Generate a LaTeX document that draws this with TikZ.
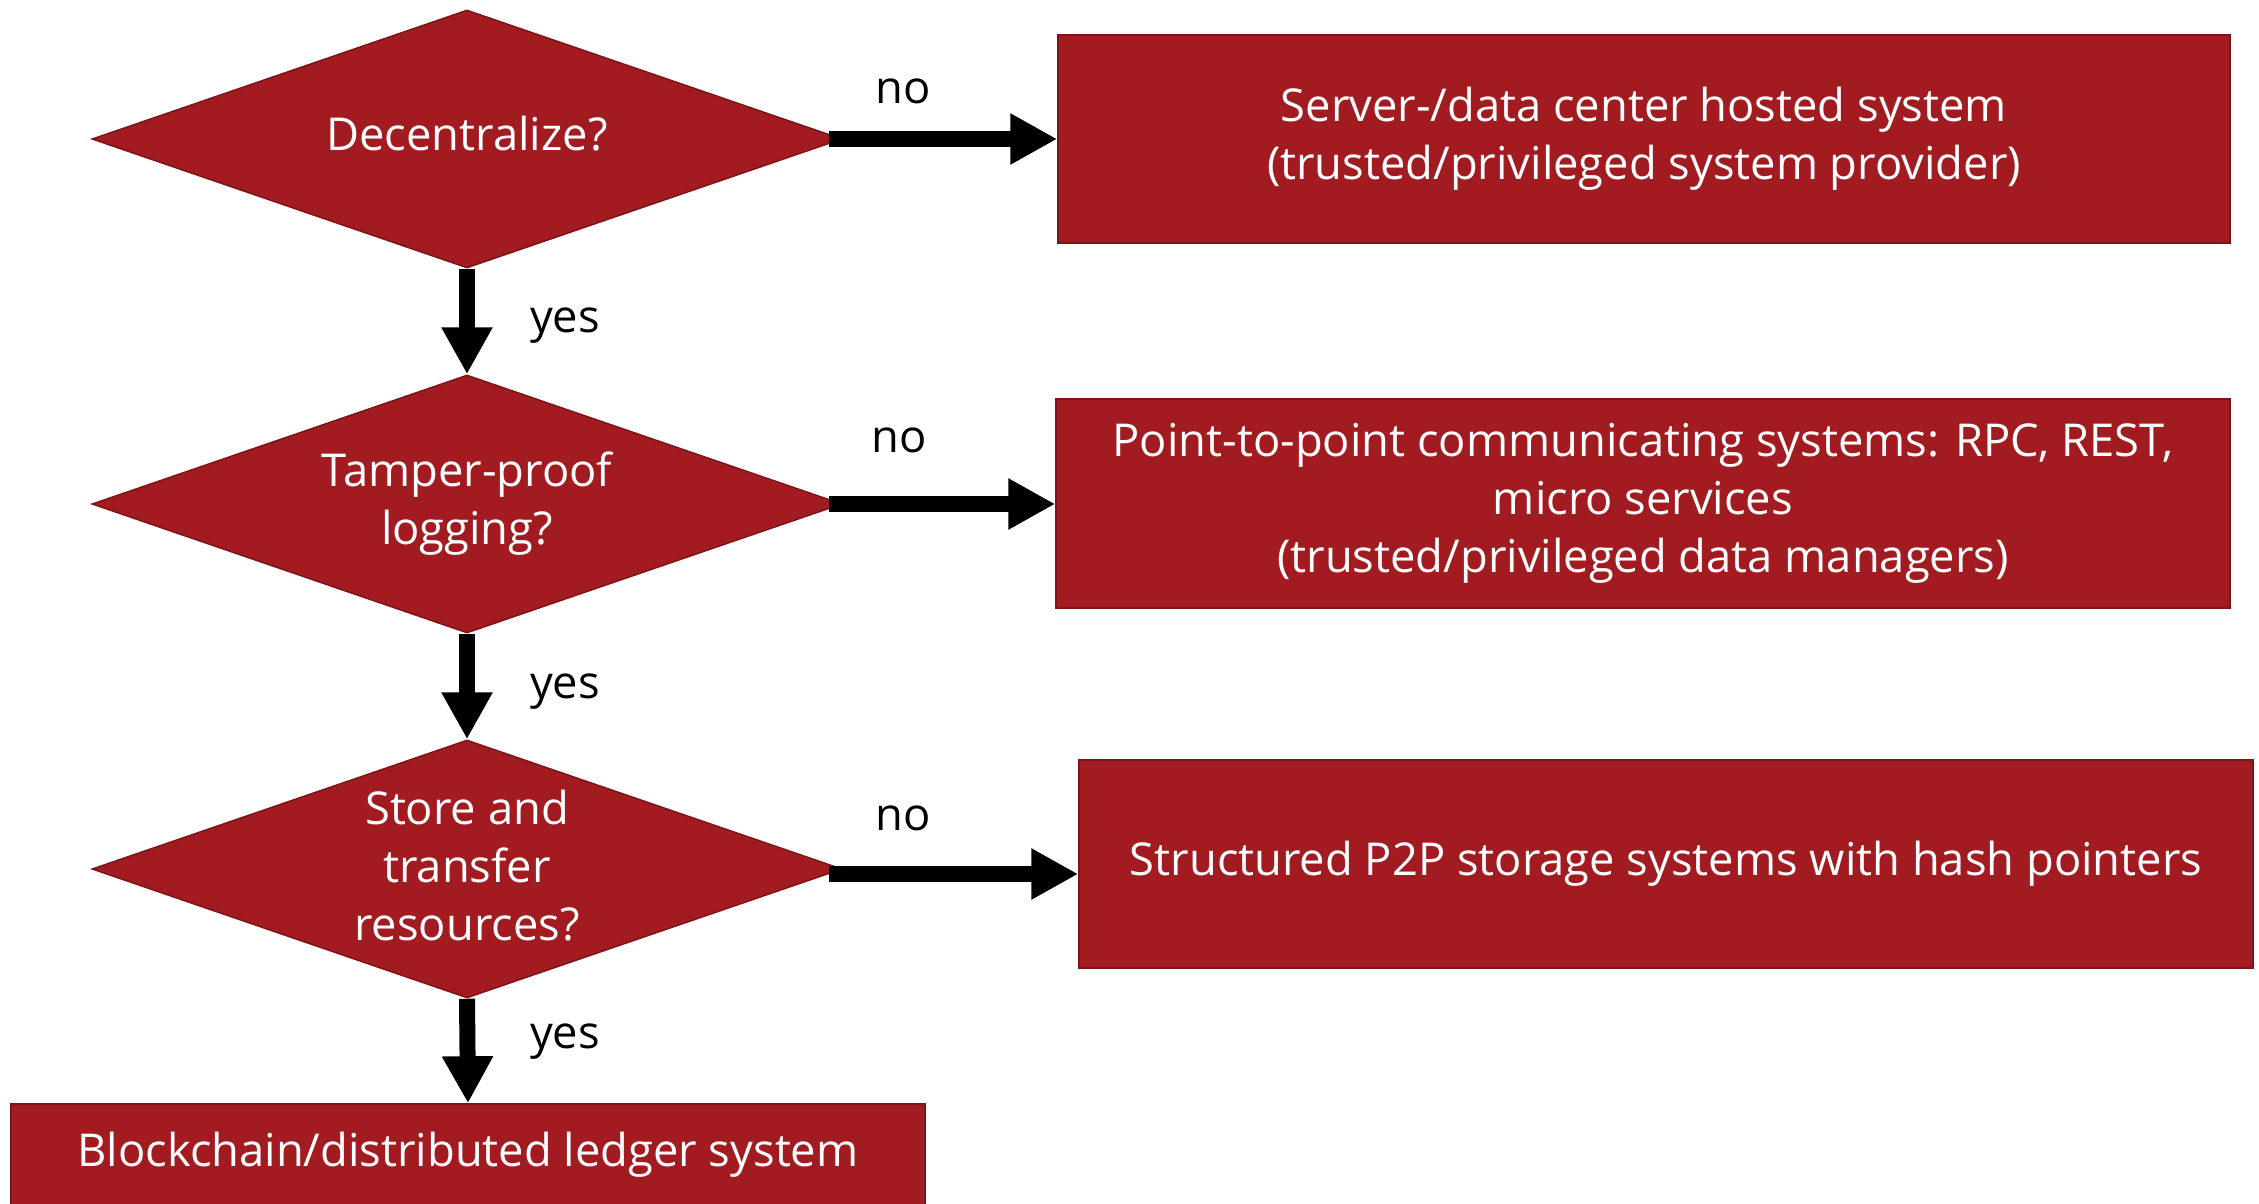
\documentclass[tikz,border=0pt]{standalone}
\usepackage{fontspec}
\setmainfont{Open Sans}
\usetikzlibrary{shapes.geometric,arrows.meta}
\definecolor{dred}{RGB}{162,27,32}
\definecolor{dredline}{RGB}{125,20,24}
\begin{document}
\begin{tikzpicture}[x=1pt,y=-1pt,
  dec/.style={shape=diamond, fill=dred, draw=dredline, line width=1.5pt, minimum width=750pt, minimum height=258pt, inner sep=0pt},
  dectext/.style={text=white, align=center, inner sep=0pt, font=\fontsize{45.3}{58}\selectfont},
  res/.style={rectangle, fill=dred, draw=dredline, line width=1.5pt, inner sep=0pt, text=white, align=center, font=\fontsize{45.3}{58}\selectfont},
  flow/.style={line width=16pt, -{Triangle[length=47pt,width=48pt]}},
  lbl/.style={text=black, inner sep=0pt, font=\fontsize{45.3}{58}\selectfont}]
\useasboundingbox (0,0) rectangle (2259,1204);
\clip (0,0) rectangle (2259,1204);
% decisions
\node[dec] (d1) at (467,139) {};
\node[dectext] (t1) at (467,134) {Decentralize?};
\node[dec] (d2) at (467,504) {};
\node[dectext] (t2) at (d2.center) {Tamper-proof\\logging?};
\node[dec] (d3) at (467,869) {};
\node[dectext] (t3) at (467,866) {Store and\\transfer\\resources?};
% results
\node[res, minimum width=1172pt, minimum height=208pt] (b1) at (1644,139) {Server-/data center hosted system\\(trusted/privileged system provider)};
\node[res, minimum width=1174pt, minimum height=209pt] (b2) at (1643,503.5) {Point-to-point communicating systems: RPC, REST,\\micro services\\(trusted/privileged data managers)};
\node[res, minimum width=1174pt, minimum height=208pt] (b3) at (1666,864) {Structured P2P storage systems with hash pointers};
\node[res, minimum width=914pt, minimum height=102pt] (b4) at (468,1155) {Blockchain/distributed ledger system};
% connector start points
\coordinate (a1) at ([xshift=-14pt]d1.east);
\coordinate (a2) at ([xshift=-14pt]d2.east);
\coordinate (a3) at ([xshift=-14pt,yshift=-5pt]d3.east);
% connectors
\draw[flow] (a1) -- (a1 -| b1.west);
\draw[flow] (a2) -- (a2 -| b2.west);
\draw[flow] (a3) -- (a3 -| b3.west);
\draw[flow] (d1.south) -- (d2.north);
\draw[flow] (d2.south) -- (d3.north);
\draw[flow] (d3.south) -- (b4.north);
% labels
\node[lbl] (n1) at (903,91) {no};
\node[lbl] (n2) at (899,440) {no};
\node[lbl] (n3) at (903,818) {no};
\node[lbl] (y1) at (565,326) {yes};
\node[lbl] (y2) at (565,692) {yes};
\node[lbl] (y3) at (565,1042) {yes};
\end{tikzpicture}
\end{document}
